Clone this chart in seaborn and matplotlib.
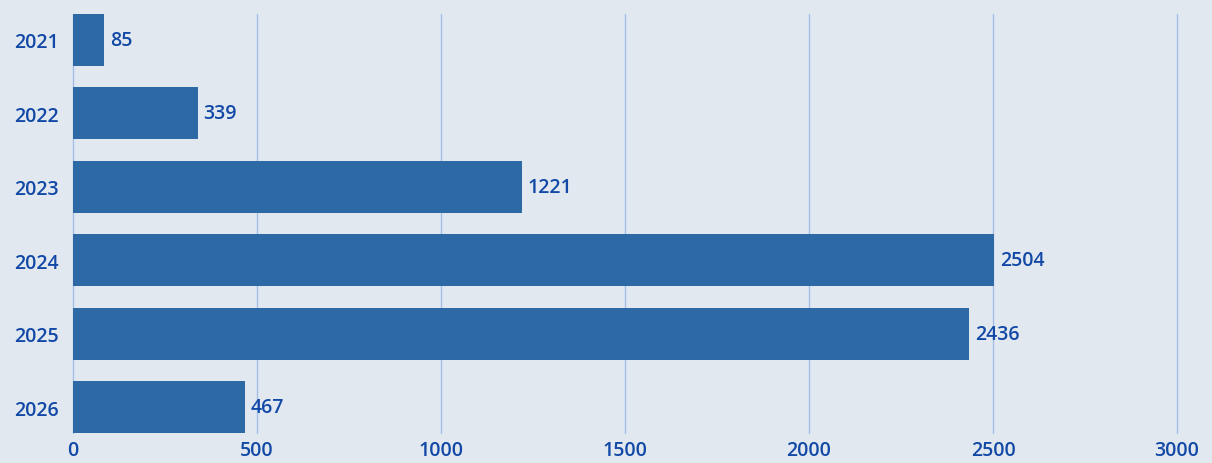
import matplotlib
matplotlib.use("Agg")
import matplotlib.pyplot as plt
import seaborn as sns
import pandas as pd

years = ["2021", "2022", "2023", "2024", "2025", "2026"]
counts = [85, 339, 1221, 2504, 2436, 467]
x_ticks = [0, 500, 1000, 1500, 2000, 2500, 3000]

bg = "#e2e8f0"
bar_color = "#2c69a5"
text_color = "#1249a6"
grid_color = "#a2bfe8"

sns.set_theme(style="white")
plt.rcParams["font.family"] = ["Open Sans", "DejaVu Sans"]

df = pd.DataFrame({"year": years, "count": counts})

fig = plt.figure(figsize=(12.12, 4.64), dpi=100, facecolor=bg)
ax = fig.add_axes([73 / 1212, 30 / 464, (1177 - 73) / 1212, (434 - 15) / 464])
ax.set_facecolor("none")

sns.barplot(data=df, x="count", y="year", orient="h", color=bar_color,
            width=0.708, saturation=1, linewidth=0, ax=ax, zorder=3)

half = 0.708 / 2
ax.set_ylim(len(years) - 1 + half, -half)
ax.set_xlim(0, 3000)
ax.set_xticks(x_ticks)
ax.set_xticklabels([str(t) for t in x_ticks])

ax.grid(axis="x", color=grid_color, linewidth=1, zorder=0)
ax.grid(axis="y", visible=False)
for gl in ax.get_xgridlines():
    gl.set_clip_on(False)
for s in ax.spines.values():
    s.set_visible(False)

ax.tick_params(axis="both", length=0, labelsize=14, labelcolor=text_color)
ax.tick_params(axis="y", pad=10)
ax.tick_params(axis="x", pad=5)
for lbl in ax.get_xticklabels() + ax.get_yticklabels():
    lbl.set_fontweight("semibold")

ax.set_xlabel("")
ax.set_ylabel("")

for container in ax.containers:
    ax.bar_label(container, labels=[str(v) for v in counts], padding=4,
                 fontsize=14, color=text_color, fontweight="semibold")

fig.savefig("out.png", dpi=100, facecolor=bg)
